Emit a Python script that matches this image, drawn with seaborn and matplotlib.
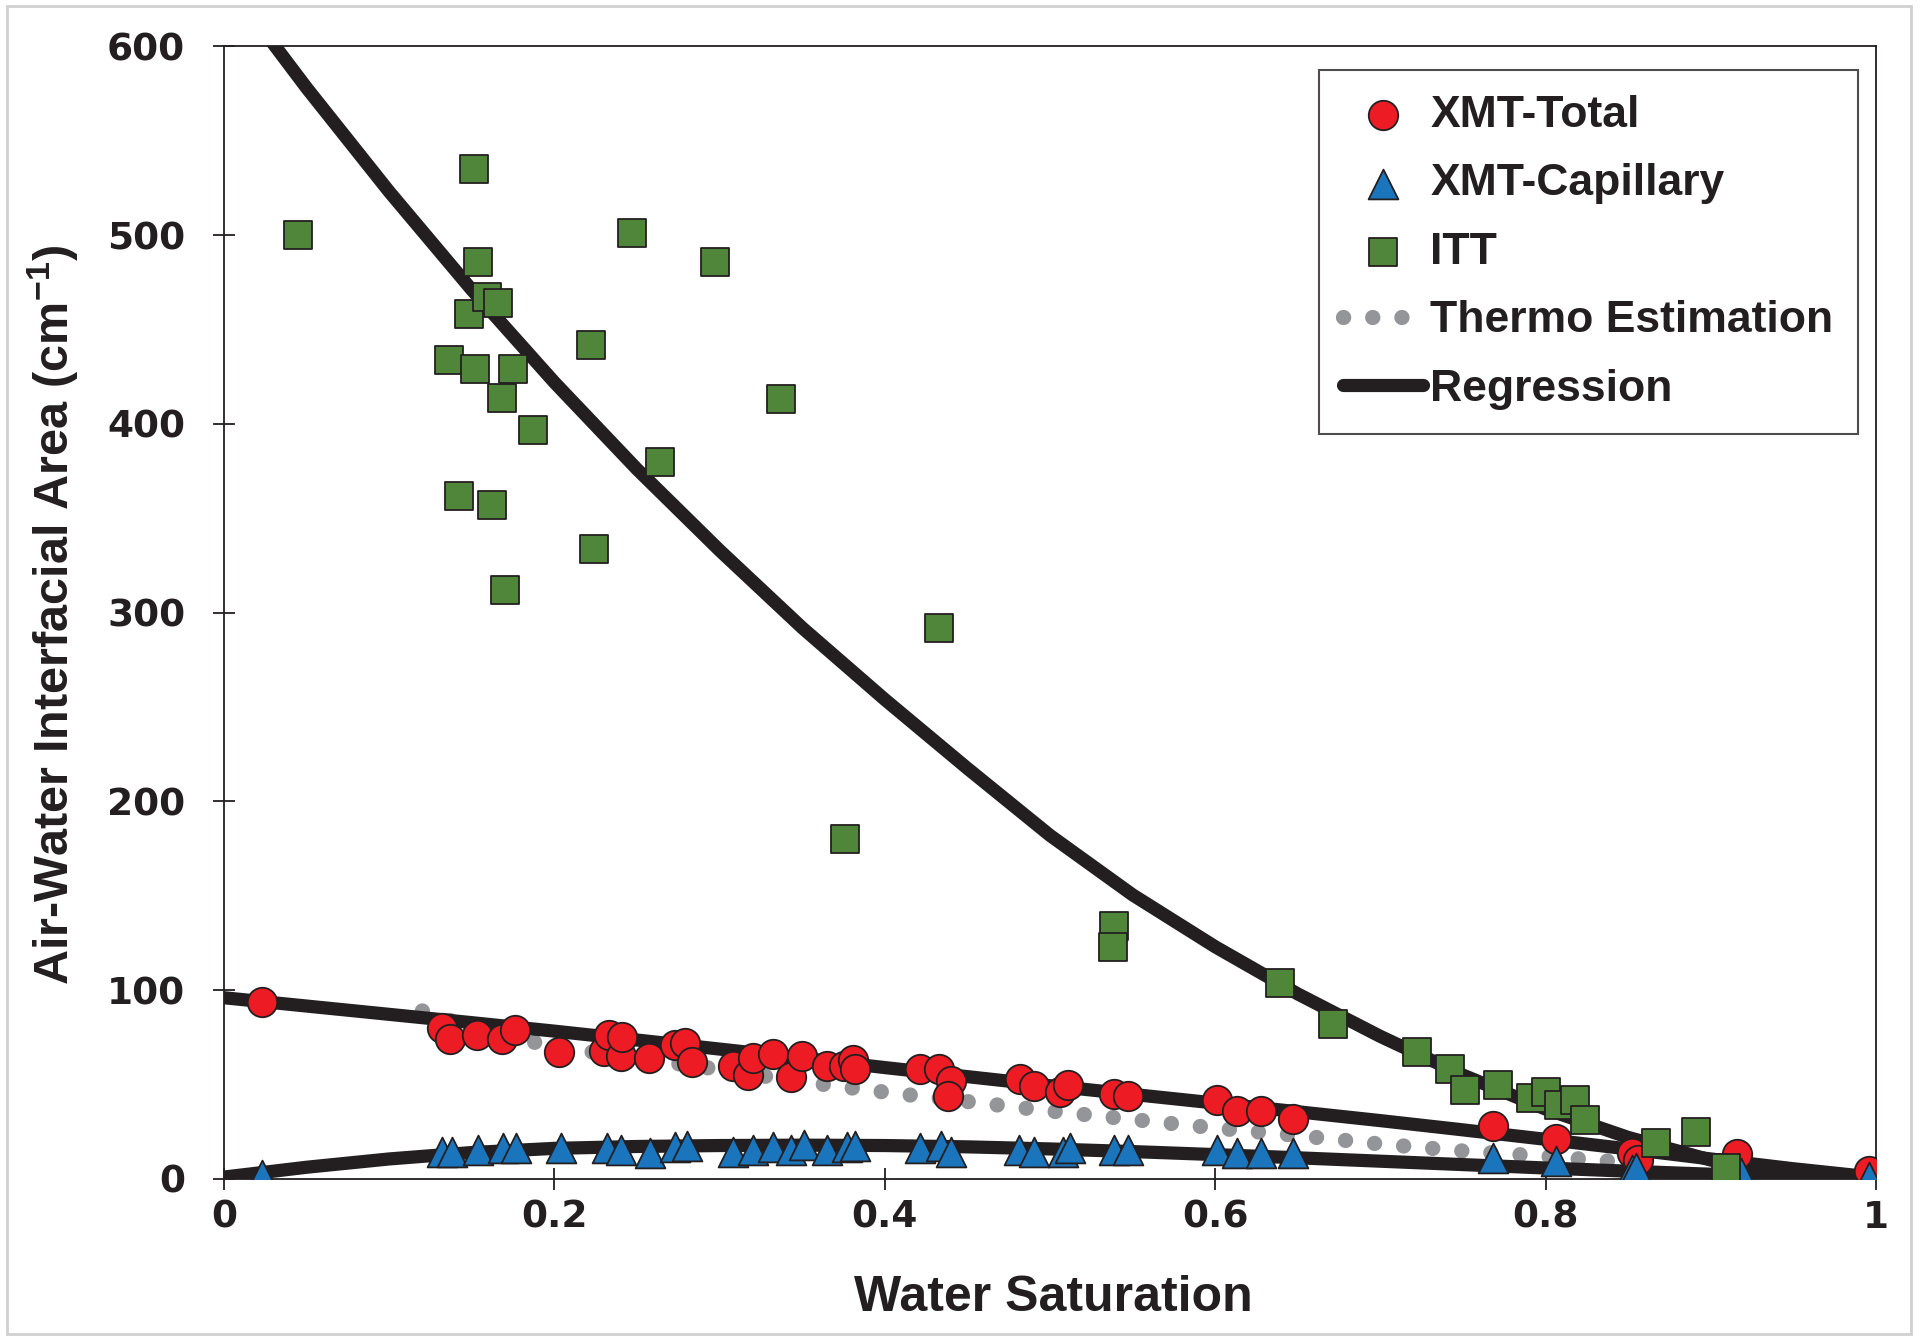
import matplotlib
matplotlib.use("Agg")
import matplotlib.pyplot as plt
from matplotlib.patches import Rectangle
import seaborn as sns

# XMT-Total (red circles)
total_sw = [0.023, 0.132, 0.137, 0.153, 0.168, 0.176, 0.203, 0.230, 0.233, 0.240,
            0.241, 0.257, 0.273, 0.279, 0.283, 0.308, 0.317, 0.320, 0.332, 0.343,
            0.350, 0.365, 0.375, 0.381, 0.382, 0.421, 0.433, 0.440, 0.438, 0.482,
            0.490, 0.506, 0.511, 0.539, 0.547, 0.601, 0.613, 0.628, 0.647, 0.768,
            0.806, 0.852, 0.856, 0.916, 0.996]
total_area = [94, 80, 74, 76, 74, 79, 67, 68, 76, 65,
              75, 64, 71, 72, 62, 60, 55, 64, 66, 54,
              65, 60, 60, 63, 58, 58, 58.5, 52, 44, 53,
              49, 46, 50, 45, 44, 42, 36, 36, 32, 28,
              21, 14, 10, 13, 4]

# XMT-Capillary (blue triangles)
cap_sw = [0.023, 0.132, 0.138, 0.154, 0.169, 0.177, 0.204, 0.232, 0.240, 0.258,
          0.273, 0.280, 0.308, 0.320, 0.332, 0.343, 0.351, 0.365, 0.377, 0.382,
          0.421, 0.434, 0.440, 0.481, 0.490, 0.508, 0.512, 0.539, 0.547, 0.601,
          0.613, 0.628, 0.647, 0.768, 0.806, 0.852, 0.855, 0.918, 0.996]
cap_area = [2, 14.5, 14.5, 15.4, 16.3, 16.3, 16.3, 16.3, 15.4, 13.7,
            17, 17.5, 14.5, 15.4, 17, 15.4, 18, 15.4, 17, 17.5,
            16.3, 17.5, 14.5, 15.4, 14.5, 14.5, 16.3, 15.5, 15.5, 15.5,
            13.5, 13.5, 13.5, 11, 9.5, 5, 6, 3, 1]

# ITT (green squares)
itt_sw = [0.045, 0.151, 0.154, 0.148, 0.159, 0.166, 0.136, 0.152, 0.175, 0.168,
          0.187, 0.142, 0.162, 0.170, 0.222, 0.224, 0.247, 0.297, 0.264, 0.337,
          0.376, 0.433, 0.539, 0.538, 0.639, 0.671, 0.722, 0.742, 0.751, 0.771,
          0.791, 0.800, 0.808, 0.818, 0.824, 0.867, 0.891, 0.909]
itt_area = [500, 535, 486, 458, 467, 464, 434, 429, 429, 414,
            397, 362, 357, 312, 442, 334, 501, 486, 380, 413,
            180, 292, 134, 123, 104, 82, 67, 58, 47, 50,
            43, 46, 39, 42, 31, 19, 25, 6]

# Thermo estimation (grey dotted)
thermo_sw = [0.12, 0.15, 0.20, 0.25, 0.30, 0.35, 0.40, 0.45, 0.50, 0.55,
             0.60, 0.65, 0.70, 0.75, 0.80, 0.86]
thermo_area = [89, 80, 70, 64, 58, 51.5, 46, 41, 36, 31.5,
               27, 23, 18.5, 14.8, 12, 8]

# Regression curves
fit_sw = [0.00, 0.05, 0.10, 0.15, 0.20, 0.25, 0.30, 0.35, 0.40, 0.45, 0.50,
          0.55, 0.60, 0.65, 0.70, 0.75, 0.80, 0.85, 0.90, 0.95, 1.00]
itt_fit = [636, 578, 523, 471, 422, 376, 333, 292, 254, 217.5, 182,
           150.5, 123, 98, 75.5, 55, 37, 22, 10, 2.5, 0]
total_fit = [96, 91.6, 87.2, 82.8, 78.3, 73.6, 68.8, 64, 59, 54.2, 49.4,
             44.8, 40.2, 35.6, 30.9, 26, 21, 15.9, 10.6, 5.4, 0.8]
cap_fit = [1, 6.2, 10.6, 14, 16.2, 17.2, 17.7, 17.9, 17.7, 17, 15.9,
           14.5, 12.9, 11.2, 9.4, 7.6, 5.8, 4.1, 2.5, 1.1, 0]

x_ticks = [0, 0.2, 0.4, 0.6, 0.8, 1.0]
x_tick_labels = ["0", "0.2", "0.4", "0.6", "0.8", "1"]
y_ticks = [0, 100, 200, 300, 400, 500, 600]

INK = "#231F20"

sns.set_theme(style="white")
plt.rcParams.update({
    "font.family": ["Liberation Sans", "DejaVu Sans"],
    "font.weight": "bold",
    "mathtext.fontset": "custom",
    "mathtext.rm": "Liberation Sans:bold",
    "mathtext.bf": "Liberation Sans:bold",
    "mathtext.it": "Liberation Sans:bold",
})

fig = plt.figure(figsize=(19.2, 13.42), dpi=100)
ax = fig.add_axes([0.1167, 0.1215, 0.8604, 0.8439])

# thermo estimation - round dots
sns.lineplot(x=thermo_sw, y=thermo_area, ax=ax, color="#939598", lw=11,
             linestyle=(0, (0.01, 1.9)), dash_capstyle="round",
             sort=False, estimator=None, label="Thermo Estimation", zorder=2)

# regression curves
sns.lineplot(x=fit_sw, y=itt_fit, ax=ax, color=INK, lw=9.5, solid_capstyle="round",
             solid_joinstyle="round", sort=False, estimator=None,
             label="Regression", zorder=3)
sns.lineplot(x=fit_sw, y=total_fit, ax=ax, color=INK, lw=9.5, solid_joinstyle="round",
             sort=False, estimator=None, zorder=3)
sns.lineplot(x=fit_sw, y=cap_fit, ax=ax, color=INK, lw=9.5, solid_joinstyle="round",
             sort=False, estimator=None, zorder=3)

mk = dict(edgecolor=INK, linewidth=1.3, zorder=4, ax=ax)
sns.scatterplot(x=total_sw, y=total_area, marker="o", s=450, color="#ED1C24",
                label="XMT-Total", **mk)
sns.scatterplot(x=cap_sw, y=cap_area, marker="^", s=460, color="#1A75BC",
                label="XMT-Capillary", **mk)
sns.scatterplot(x=itt_sw, y=itt_area, marker="s", s=430, color="#50863A",
                label="ITT", **mk)

ax.set_xlim(0, 1)
ax.set_ylim(0, 600)
ax.set_xticks(x_ticks)
ax.set_xticklabels(x_tick_labels)
ax.set_yticks(y_ticks)
ax.tick_params(axis="both", which="major", direction="inout", length=16, width=1.3,
               color=INK, labelcolor=INK, labelsize=27, bottom=True, left=True)
ax.tick_params(axis="x", pad=7)
ax.tick_params(axis="y", pad=20)
for lab in ax.get_xticklabels() + ax.get_yticklabels():
    lab.set_fontfamily("DejaVu Sans")
    lab.set_fontweight("bold")

for side in ["left", "bottom", "top", "right"]:
    ax.spines[side].set_visible(True)
    ax.spines[side].set_color(INK)
    ax.spines[side].set_linewidth(1.3)

ax.set_xlabel("Water Saturation", fontsize=36, fontweight="bold", color=INK, va="center")
ax.xaxis.set_label_coords(0.502, -0.105)
ax.set_ylabel("Air-Water Interfacial Area (cm$^{-1}$)", fontsize=35,
              fontweight="bold", color=INK, va="center")
ax.yaxis.set_label_coords(-0.1035, 0.498)

handles, labels = ax.get_legend_handles_labels()
lookup = dict(zip(labels, handles))
order = ["XMT-Total", "XMT-Capillary", "ITT", "Thermo Estimation", "Regression"]
leg = ax.legend([lookup[k] for k in order], order, loc="upper right",
                bbox_to_anchor=(0.989, 0.979), borderaxespad=0, frameon=True,
                fancybox=False, shadow=False, prop={"size": 32, "weight": "bold"},
                handlelength=1.8, handletextpad=0.16, borderpad=0.55,
                labelspacing=0.62, markerscale=1.0)
leg.get_frame().set_edgecolor(INK)
leg.get_frame().set_linewidth(1.5)
for txt in leg.get_texts():
    txt.set_color(INK)

# light outer border of the figure
fig.patches.append(Rectangle((0.0036, 0.006), 0.9917, 0.9895, transform=fig.transFigure,
                             fill=False, edgecolor="#D0D0D0", linewidth=2))

fig.savefig("out.png", dpi=100, facecolor="white")
